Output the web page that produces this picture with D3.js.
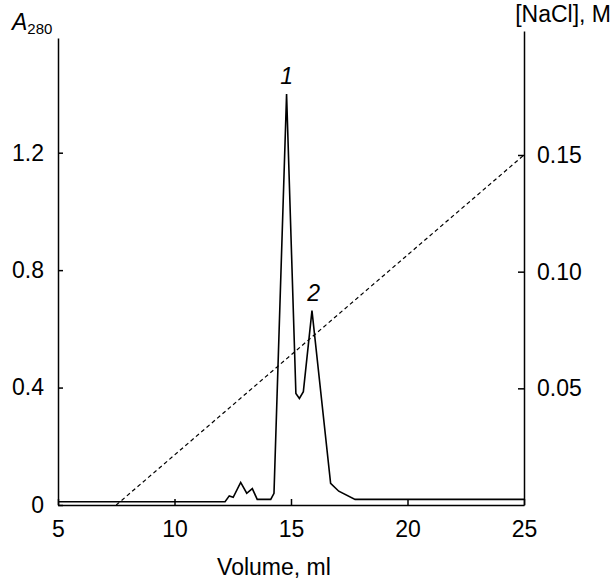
<!DOCTYPE html>
<html lang="en">
<head>
    <meta charset="UTF-8">
    <title>A280 elution profile</title>
    <style>
        body { margin: 0; background: #fff; }
        svg text { font-family: "Liberation Sans", Arial, sans-serif; fill: #000; }
    </style>
</head>
<body>
    <div id="chart-container"></div>
    <script src="https://d3js.org/d3.v7.min.js"></script>
    <script>
        // elution profile
        const volume = [5, 12.17, 12.35, 12.52, 12.84, 13.10, 13.34, 13.55, 14.13, 14.27, 14.81, 15.21, 15.36, 15.53, 15.90, 16.70, 17.05, 17.75, 25];
        const a280 = [0.011, 0.011, 0.031, 0.026, 0.077, 0.040, 0.056, 0.019, 0.019, 0.040, 1.40, 0.38, 0.363, 0.386, 0.662, 0.074, 0.047, 0.019, 0.019];

        // salt gradient
        const gradVolume = [7.5, 25];
        const nacl = [0, 0.15];

        const xTicks = [5, 10, 15, 20, 25];
        const yTicks = [0, 0.4, 0.8, 1.2];
        const y2Ticks = [0.05, 0.10, 0.15];

        const peakLabels = [
            {text: "1", x: 14.81, y: 1.40},
            {text: "2", x: 15.97, y: 0.662}
        ];

        const W = 611, H = 581;
        const LEFT = 58, RIGHT = 524, BOTTOM = 505, TOP = 38, TOP2 = 31;

        const svg = d3.select("#chart-container").append("svg")
            .attr("width", W)
            .attr("height", H);

        const x = d3.scaleLinear().domain([5, 25]).range([LEFT, RIGHT]);
        const y = d3.scaleLinear().domain([0, 1.2]).range([BOTTOM, 152.7]);
        y.domain([0, y.invert(TOP)]).range([BOTTOM, TOP]);
        const y2 = d3.scaleLinear().domain([0, 0.15]).range([BOTTOM, 155]);
        y2.domain([0, y2.invert(TOP2)]).range([BOTTOM, TOP2]);

        const FS = 23;

        // axes
        svg.append("g")
            .attr("transform", `translate(0, ${BOTTOM})`)
            .call(d3.axisBottom(x).tickValues(xTicks).tickSizeInner(-6).tickSizeOuter(0).tickPadding(16));
        svg.append("g")
            .attr("transform", `translate(${LEFT}, 0)`)
            .call(d3.axisLeft(y).tickValues(yTicks).tickSizeInner(-5).tickSizeOuter(0).tickPadding(14)
                .tickFormat(d => d === 0 ? "0" : d3.format(".1f")(d)));
        svg.append("g")
            .attr("transform", `translate(${RIGHT}, 0)`)
            .call(d3.axisRight(y2).tickValues(y2Ticks).tickSizeInner(-6).tickSizeOuter(0).tickPadding(13)
                .tickFormat(d3.format(".2f")));

        svg.selectAll(".domain, .tick line")
            .attr("stroke", "#000")
            .attr("stroke-width", 1.5);
        svg.selectAll(".tick text")
            .attr("font-size", FS)
            .attr("font-family", "Liberation Sans, Arial, sans-serif");

        // gradient line
        const gradData = gradVolume.map((v, i) => ({v: v, c: nacl[i]}));
        svg.append("path")
            .datum(gradData)
            .attr("fill", "none")
            .attr("stroke", "#000")
            .attr("stroke-width", 1.2)
            .attr("stroke-dasharray", "4,3")
            .attr("d", d3.line()
                .x(d => x(d.v))
                .y(d => y2(d.c))
            );

        // absorbance
        const profile = volume.map((v, i) => ({v: v, a: a280[i]}));
        svg.append("path")
            .datum(profile)
            .attr("fill", "none")
            .attr("stroke", "#000")
            .attr("stroke-width", 1.6)
            .attr("d", d3.line()
                .x(d => x(d.v))
                .y(d => y(d.a))
            );

        // peak numbers
        svg.selectAll(".peak").data(peakLabels).enter().append("text")
            .attr("class", "peak")
            .attr("x", d => x(d.x))
            .attr("y", d => y(d.y) - 10)
            .attr("text-anchor", "middle")
            .attr("font-size", FS)
            .attr("font-style", "italic")
            .text(d => d.text);

        // axis titles
        const aTitle = svg.append("text")
            .attr("x", 12)
            .attr("y", 30)
            .attr("font-size", FS);
        aTitle.append("tspan").attr("font-style", "italic").text("A");
        aTitle.append("tspan").attr("font-size", 15).attr("dy", 4).text("280");

        svg.append("text")
            .attr("x", 611)
            .attr("y", 22)
            .attr("text-anchor", "end")
            .attr("font-size", FS)
            .text("[NaCl], M");

        svg.append("text")
            .attr("x", 274)
            .attr("y", 575)
            .attr("text-anchor", "middle")
            .attr("font-size", FS)
            .text("Volume, ml");
    </script>
</body>
</html>
